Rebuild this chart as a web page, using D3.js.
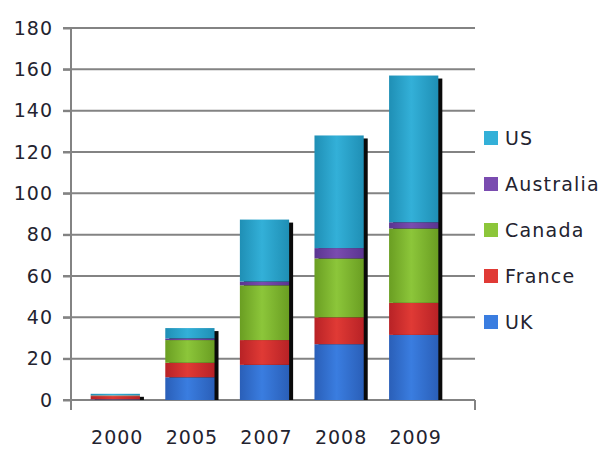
<!DOCTYPE html>
<html>
<head>
<meta charset="utf-8">
<script src="https://cdn.jsdelivr.net/npm/d3@7/dist/d3.min.js"></script>
<style>
  body { margin: 0; background: #fff; }
  text { font-family: "DejaVu Sans", sans-serif; fill: #23232f; }
</style>
</head>
<body>
<div id="chart"></div>
<script>
var years = ['2000', '2005', '2007', '2008', '2009'];
var seriesNames = ['UK', 'France', 'Canada', 'Australia', 'US'];
var ukValues = [0.3, 11, 17, 27, 31.5];
var franceValues = [1.6, 7, 12, 13, 15.5];
var canadaValues = [0.3, 11, 26.5, 28.5, 36];
var australiaValues = [0.2, 0.8, 1.8, 5, 3];
var usValues = [0.6, 5, 30, 54.5, 71];
var yTicks = [0, 20, 40, 60, 80, 100, 120, 140, 160, 180];

var colors = {
  UK: ['#2a5fb8', '#3a7de0'],
  France: ['#b82226', '#e03a35'],
  Canada: ['#6a9e22', '#8cc63a'],
  Australia: ['#5a3490', '#7a4cb0'],
  US: ['#1f8fb5', '#33b0d8']
};

var svgWidth = 605, svgHeight = 449;
var margin = {top: 28, left: 71, right: 475, bottom: 400};

var svg = d3.select('#chart').append('svg')
  .attr('width', svgWidth)
  .attr('height', svgHeight);

var rows = years.map(function(y, i) {
  return {year: y, UK: ukValues[i], France: franceValues[i], Canada: canadaValues[i],
    Australia: australiaValues[i], US: usValues[i]};
});
var stacked = d3.stack().keys(seriesNames)(rows);

var x = d3.scaleBand()
  .domain(years)
  .range([78, 451])
  .paddingInner(0.34)
  .paddingOuter(0.17);

var y = d3.scaleLinear()
  .domain([0, 180])
  .range([margin.bottom, margin.top]);

// gradients
var defs = svg.append('defs');
seriesNames.forEach(function(s) {
  var g = defs.append('linearGradient').attr('id', 'g-' + s)
    .attr('x1', '0').attr('x2', '1').attr('y1', '0').attr('y2', '0');
  g.append('stop').attr('offset', '0%').attr('stop-color', colors[s][0]);
  g.append('stop').attr('offset', '45%').attr('stop-color', colors[s][1]);
  g.append('stop').attr('offset', '100%').attr('stop-color', colors[s][0]);
});

// gridlines
svg.append('g')
  .selectAll('line')
  .data(yTicks.slice(1))
  .enter().append('line')
  .attr('x1', margin.left - 8)
  .attr('x2', margin.right)
  .attr('y1', function(d) { return y(d); })
  .attr('y2', function(d) { return y(d); })
  .attr('stroke', '#838383')
  .attr('stroke-width', 2);

// y axis
var yAxis = d3.axisLeft(y).tickValues(yTicks).tickSize(8).tickPadding(10);
var yg = svg.append('g')
  .attr('transform', 'translate(' + margin.left + ',0)')
  .call(yAxis);
yg.select('.domain').attr('stroke', '#838383').attr('stroke-width', 2)
  .attr('d', 'M0,' + margin.top + 'V' + (margin.bottom + 10));
yg.selectAll('.tick line').attr('stroke', '#838383').attr('stroke-width', 2);
yg.selectAll('.tick text')
  .style('font-family', '"DejaVu Sans", sans-serif')
  .style('font-size', '19px')
  .style('letter-spacing', '1px')
  .attr('fill', '#23232f');

// x axis
var xg = svg.append('g').attr('transform', 'translate(0,' + margin.bottom + ')');
xg.append('line')
  .attr('x1', margin.left - 8).attr('x2', margin.right)
  .attr('stroke', '#838383').attr('stroke-width', 2);
xg.append('line')
  .attr('x1', margin.right).attr('x2', margin.right)
  .attr('y1', 0).attr('y2', 10)
  .attr('stroke', '#838383').attr('stroke-width', 2);
xg.selectAll('text.xl')
  .data(years)
  .enter().append('text')
  .attr('class', 'xl')
  .attr('x', function(d) { return x(d) + x.bandwidth() / 2 + 2; })
  .attr('y', 44)
  .attr('text-anchor', 'middle')
  .style('font-size', '19px')
  .style('letter-spacing', '1px')
  .text(function(d) { return d; });

// shadows
var totals = stacked[stacked.length - 1];
svg.append('g')
  .selectAll('rect')
  .data(totals)
  .enter().append('rect')
  .attr('x', function(d) { return x(d.data.year) + 4; })
  .attr('y', function(d) { return y(d[1]) + 3; })
  .attr('width', x.bandwidth())
  .attr('height', function(d) { return Math.max(0, y(0) - y(d[1]) - 3); })
  .attr('fill', '#0a0a0a');

// bars
svg.append('g')
  .selectAll('g')
  .data(stacked)
  .enter().append('g')
  .attr('fill', function(d) { return 'url(#g-' + d.key + ')'; })
  .selectAll('rect')
  .data(function(d) { return d; })
  .enter().append('rect')
  .attr('x', function(d) { return x(d.data.year); })
  .attr('y', function(d) { return y(d[1]); })
  .attr('width', x.bandwidth())
  .attr('height', function(d) { return y(d[0]) - y(d[1]); });

// legend
var legendOrder = seriesNames.slice().reverse();
var legend = svg.append('g')
  .selectAll('g')
  .data(legendOrder)
  .enter().append('g')
  .attr('transform', function(d, i) { return 'translate(484,' + (138 + i * 46) + ')'; });
legend.append('rect')
  .attr('x', 0).attr('y', -7)
  .attr('width', 14).attr('height', 14)
  .attr('fill', function(d) { return colors[d][1]; });
legend.append('text')
  .attr('x', 21)
  .attr('y', 7)
  .style('font-size', '19px')
  .style('letter-spacing', '1.2px')
  .text(function(d) { return d; });
</script>
</body>
</html>
